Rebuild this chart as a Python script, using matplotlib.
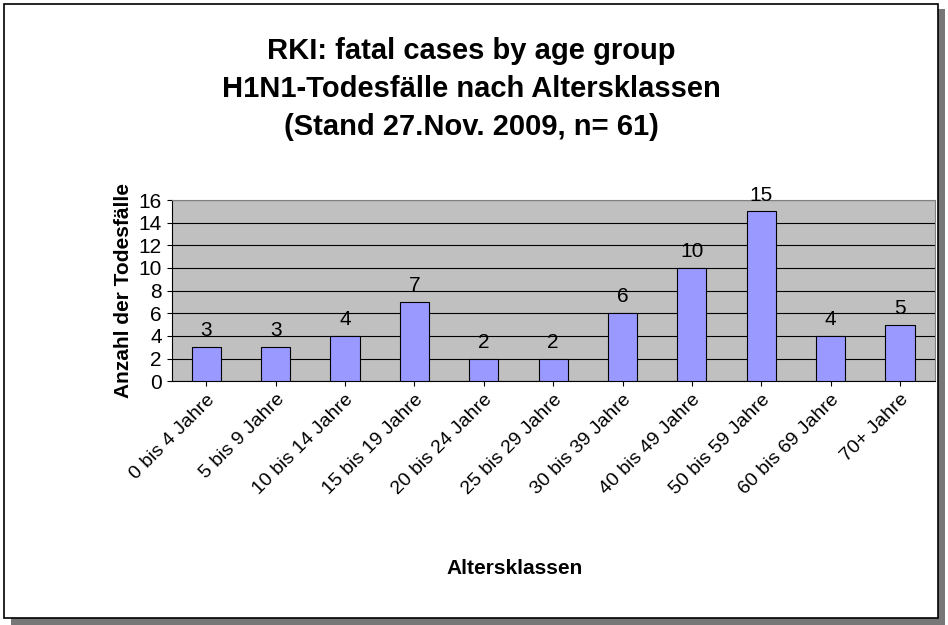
import matplotlib.pyplot as plt
from matplotlib.patches import Rectangle

categories = ["0 bis 4 Jahre", "5 bis 9 Jahre", "10 bis 14 Jahre", "15 bis 19 Jahre",
              "20 bis 24 Jahre", "25 bis 29 Jahre", "30 bis 39 Jahre", "40 bis 49 Jahre",
              "50 bis 59 Jahre", "60 bis 69 Jahre", "70+ Jahre"]
deaths = [3, 3, 4, 7, 2, 2, 6, 10, 15, 4, 5]

plt.rcParams['font.family'] = ['Liberation Sans', 'DejaVu Sans']

fig = plt.figure(figsize=(9.48, 6.25), dpi=100)
# frame with shadow
fig.patches.append(Rectangle((0.012, 0.0), 0.985, 0.985, transform=fig.transFigure,
                             facecolor='#777777', edgecolor='none', zorder=-2))
fig.patches.append(Rectangle((0.004, 0.012), 0.985, 0.982, transform=fig.transFigure,
                             facecolor='white', edgecolor='black', lw=1.2, zorder=-1))

ax = fig.add_axes([0.181, 0.39, 0.805, 0.29])
ax.set_zorder(2)
ax.set_facecolor('#c0c0c0')
x = range(len(categories))
ax.bar(x, deaths, width=0.42, color='#9999ff', edgecolor='black', lw=0.8, zorder=3)
for i, v in zip(x, deaths):
    ax.text(i, v + 0.6, str(v), ha='center', va='bottom', fontsize=15)
ax.set_xlim(-0.5, len(categories) - 0.5)
ax.set_ylim(0, 16)
ax.set_yticks(range(0, 17, 2))
ax.yaxis.grid(True, color='black', lw=0.8, zorder=1)
ax.set_axisbelow(True)
ax.set_xticks(list(x))
ax.set_xticklabels(categories, rotation=45, ha='right', rotation_mode='anchor', fontsize=14)
ax.tick_params(axis='y', labelsize=15)
for s in ax.spines.values():
    s.set_color('#808080')
ax.spines['left'].set_color('black')
ax.spines['bottom'].set_color('black')
ax.set_ylabel("Anzahl der Todesfälle", fontsize=15, fontweight='bold')
ax.set_xlabel("Altersklassen", fontsize=15, fontweight='bold')
ax.xaxis.set_label_coords(0.45, -0.98)

fig.text(0.497, 0.858, "RKI: fatal cases by age group\nH1N1-Todesfälle nach Altersklassen\n(Stand 27.Nov. 2009, n= 61)",
         ha='center', va='center', fontsize=21, fontweight='bold', linespacing=1.45, zorder=5)

fig.savefig("out.png", dpi=100)
